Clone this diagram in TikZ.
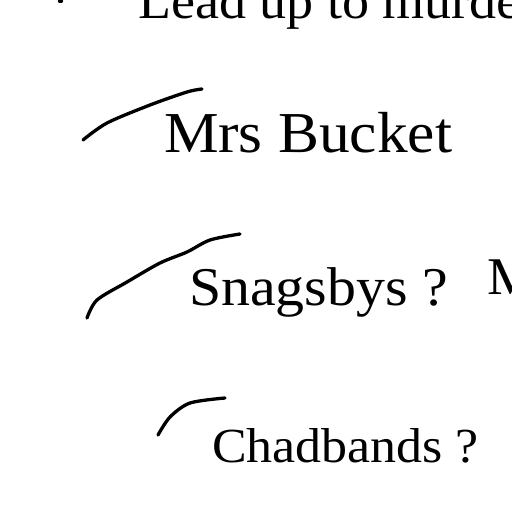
\documentclass[tikz,border=0pt]{standalone}
\usepackage{fontspec}
\setmainfont{Liberation Serif}
\newfontfamily\widefont{Liberation Serif}[FakeStretch=1.06]
\begin{document}
\begin{tikzpicture}[x=1pt,y=-1pt,
  lbl/.style={anchor=base west,inner sep=0pt,outer sep=0pt},
  pen/.style={line width=3.3pt,line cap=round,line join=round}]
\useasboundingbox (0,0) rectangle (512,512);
\clip (0,0) rectangle (512,512);
\fill[white] (0,0) rectangle (512,512);
\node[lbl,font=\widefont\fontsize{51}{60}\selectfont] (lead) at (138,18) {Lead up to murder};
\node[lbl,font=\widefont\fontsize{57.9}{60}\selectfont] (bucket) at (164,152) {Mrs Bucket};
\node[lbl,font=\widefont\fontsize{54.6}{60}\selectfont] (snag) at (189,305) {Snagsbys ?};
\node[lbl,font=\widefont\fontsize{53}{60}\selectfont] (m) at (487,294) {M};
\node[lbl,font=\widefont\fontsize{49}{60}\selectfont] (chad) at (212,462) {Chadbands ?};
\draw[pen] plot[smooth] coordinates {(83,140) (107,123) (150,105) (187,92) (202,89)};
\draw[pen] plot[smooth] coordinates {(87,318) (97,300) (127,282) (160,263) (187,252) (210,240) (240,234)};
\draw[pen] plot[smooth] coordinates {(158,435) (170,417) (190,403) (225,398)};
\draw[pen] (59.5,1) -- (61.5,1);
\end{tikzpicture}
\end{document}
